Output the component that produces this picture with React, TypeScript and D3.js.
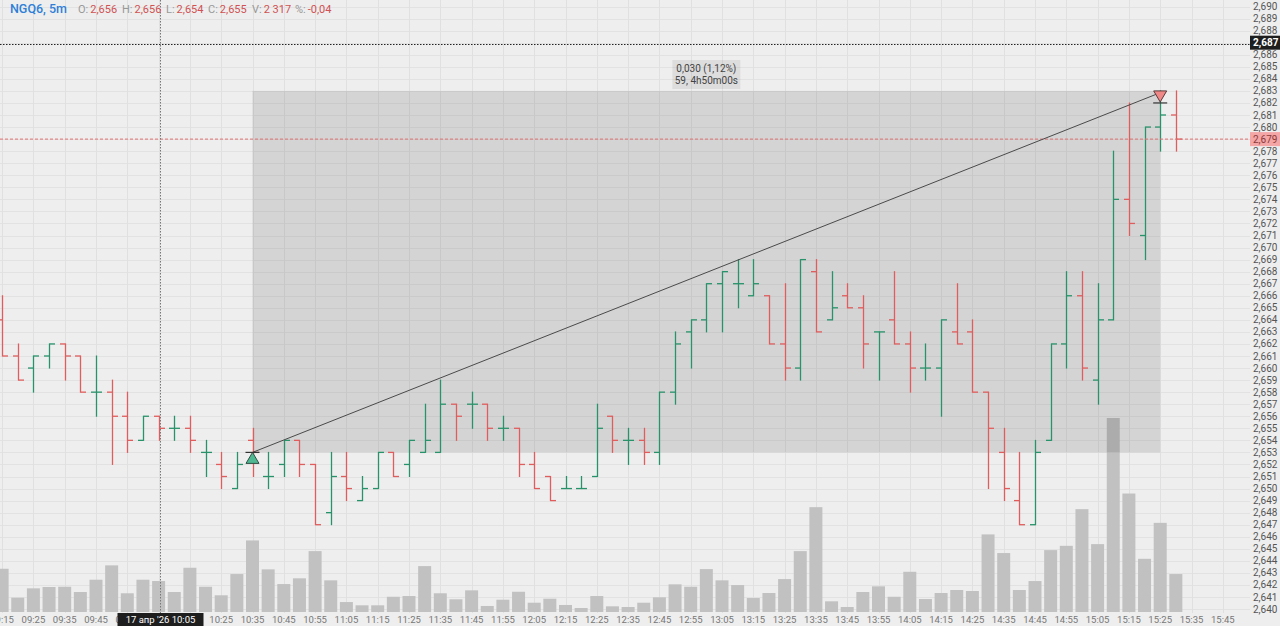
import React from 'react';
import * as d3 from 'd3';

// bar times (5m)
const times = [
  "09:15", "09:20", "09:25", "09:30", "09:35", "09:40", "09:45", "09:50", "09:55", "10:00",
  "10:05", "10:10", "10:15", "10:20", "10:25", "10:30", "10:35", "10:40", "10:45", "10:50",
  "10:55", "11:00", "11:05", "11:10", "11:15", "11:20", "11:25", "11:30", "11:35", "11:40",
  "11:45", "11:50", "11:55", "12:00", "12:05", "12:10", "12:15", "12:20", "12:25", "12:30",
  "12:35", "12:40", "12:45", "12:50", "12:55", "13:00", "13:05", "13:10", "13:15", "13:20",
  "13:25", "13:30", "13:35", "13:40", "13:45", "13:50", "13:55", "14:00", "14:05", "14:10",
  "14:15", "14:20", "14:25", "14:30", "14:35", "14:40", "14:45", "14:50", "14:55", "15:00",
  "15:05", "15:10", "15:15", "15:20", "15:25", "15:30"
];
// empty slots on the right of the last bar
const futureTimes = ["15:35", "15:40", "15:45", "15:50"];

const opens = [
  2.664, 2.661, 2.660, 2.661, 2.662, 2.661, 2.658, 2.658, 2.656, 2.654,
  2.656, 2.655, 2.655, 2.653, 2.652, 2.650, 2.654, 2.651, 2.652, 2.654,
  2.652, 2.648, 2.651, 2.649, 2.650, 2.653, 2.652, 2.653, 2.653, 2.657,
  2.657, 2.657, 2.655, 2.655, 2.652, 2.651, 2.650, 2.650, 2.651, 2.656,
  2.654, 2.654, 2.653, 2.658, 2.663, 2.664, 2.667, 2.667, 2.666, 2.666,
  2.662, 2.660, 2.668, 2.664, 2.666, 2.665, 2.663, 2.664, 2.662, 2.660,
  2.660, 2.663, 2.663, 2.658, 2.653, 2.649, 2.647, 2.654, 2.662, 2.666,
  2.659, 2.664, 2.674, 2.671, 2.680, 2.681
];
const highs = [
  2.666, 2.662, 2.661, 2.662, 2.662, 2.661, 2.661, 2.659, 2.658, 2.656,
  2.656, 2.656, 2.656, 2.654, 2.653, 2.653, 2.655, 2.653, 2.654, 2.654,
  2.652, 2.653, 2.653, 2.651, 2.653, 2.653, 2.654, 2.657, 2.659, 2.657,
  2.658, 2.657, 2.656, 2.655, 2.653, 2.651, 2.651, 2.651, 2.657, 2.656,
  2.655, 2.655, 2.658, 2.663, 2.664, 2.667, 2.668, 2.669, 2.669, 2.666,
  2.667, 2.669, 2.669, 2.668, 2.667, 2.666, 2.663, 2.668, 2.663, 2.662,
  2.664, 2.667, 2.664, 2.658, 2.655, 2.653, 2.654, 2.662, 2.668, 2.668,
  2.667, 2.678, 2.682, 2.680, 2.683, 2.683
];
const lows = [
  2.661, 2.659, 2.658, 2.660, 2.659, 2.658, 2.656, 2.652, 2.653, 2.654,
  2.654, 2.654, 2.653, 2.651, 2.650, 2.650, 2.651, 2.650, 2.651, 2.651,
  2.647, 2.647, 2.649, 2.649, 2.650, 2.651, 2.651, 2.653, 2.653, 2.654,
  2.655, 2.654, 2.654, 2.651, 2.650, 2.649, 2.650, 2.650, 2.651, 2.653,
  2.652, 2.652, 2.652, 2.657, 2.660, 2.663, 2.663, 2.665, 2.666, 2.662,
  2.659, 2.659, 2.663, 2.664, 2.665, 2.660, 2.659, 2.662, 2.658, 2.659,
  2.656, 2.662, 2.658, 2.650, 2.649, 2.647, 2.647, 2.654, 2.660, 2.659,
  2.657, 2.664, 2.671, 2.669, 2.678, 2.678
];
const closes = [
  2.661, 2.659, 2.661, 2.662, 2.661, 2.658, 2.658, 2.656, 2.654, 2.656,
  2.655, 2.655, 2.654, 2.653, 2.651, 2.652, 2.653, 2.651, 2.654, 2.652,
  2.647, 2.651, 2.650, 2.650, 2.653, 2.651, 2.654, 2.654, 2.657, 2.656,
  2.657, 2.655, 2.655, 2.652, 2.650, 2.649, 2.650, 2.650, 2.655, 2.654,
  2.654, 2.653, 2.658, 2.662, 2.664, 2.667, 2.668, 2.667, 2.667, 2.662,
  2.660, 2.669, 2.663, 2.665, 2.665, 2.662, 2.663, 2.662, 2.660, 2.660,
  2.664, 2.662, 2.658, 2.655, 2.650, 2.647, 2.653, 2.662, 2.666, 2.660,
  2.664, 2.674, 2.672, 2.680, 2.681, 2.679
];
const volumes = [
  3235, 1070, 1770, 1870, 1890, 1495, 2415, 3490, 1400, 2415,
  2317, 1495, 3310, 1890, 1250, 2840, 5355, 3190, 2090, 2520,
  4555, 2370, 745, 500, 500, 1140, 1195, 3435, 1400, 950,
  1620, 450, 920, 1515, 695, 995, 525, 300, 1195, 425,
  375, 695, 1100, 2070, 1890, 3210, 2370, 2015, 1045, 1420,
  2465, 4555, 7845, 800, 375, 1495, 1920, 1140, 3010, 970,
  1420, 1645, 1570, 5805, 4410, 1645, 2315, 4630, 4950, 7695,
  5080, 14515, 8865, 3980, 6670, 2840
];

// price axis ticks
const priceTicks = d3.range(2640, 2691).map(v => v / 1000);

// header legend
const symbolLabel = "NGQ6, 5m";
const headerKeys = ["O:", "H:", "L:", "C:", "V:", "%:"];
const headerValues = ["2,656", "2,656", "2,654", "2,655", "2 317", "-0,04"];

// measure tool
const measureFrom = { time: "10:35", price: 2.653 };
const measureTo = { time: "15:25", price: 2.683 };
const measureText = ["0,030 (1,12%)", "59, 4h50m00s"];

// crosshair + last price
const crosshairTime = "10:05";
const crosshairPrice = 2.687;
const crosshairDate = "17 апр '26  10:05";
const lastPrice = 2.679;

const WIDTH = 1280;
const HEIGHT = 626;
const PLOT_RIGHT = 1250;
const HEADER_X = [78, 122, 166, 208, 252, 295];

const App: React.FC = () => {
  const svgRef = React.useRef<SVGSVGElement>(null);

  React.useEffect(() => {
    document.body.style.margin = "0";
    if (!svgRef.current) return;
    const svg = d3.select(svgRef.current);
    svg.selectAll("*").remove();

    const font = "Roboto, 'Noto Sans', sans-serif";
    const green = "#28936b";
    const red = "#e05d5d";
    const fmt = d3.formatLocale({ decimal: ",", thousands: " ", grouping: [3], currency: ["", ""] }).format(".3f");

    const allTimes = [...times, ...futureTimes];
    const x = d3.scalePoint<string>()
      .domain(allTimes)
      .range([2.1, 2.1 + 15.65 * (allTimes.length - 1)]);

    const y = d3.scaleLinear()
      .domain([2.640, 2.690])
      .range([609.05, 6.55]);

    const yVol = d3.scaleLinear()
      .domain([0, d3.max(volumes) || 1])
      .range([612, 418]);

    // фон
    svg.append("rect").attr("width", WIDTH).attr("height", HEIGHT).attr("fill", "#eeeeee");

    svg.append("defs").append("clipPath").attr("id", "plot")
      .append("rect").attr("x", 0).attr("y", 0).attr("width", PLOT_RIGHT).attr("height", 613);

    const plot = svg.append("g").attr("clip-path", "url(#plot)");

    // grid
    plot.append("g").selectAll("line")
      .data(priceTicks)
      .enter().append("line")
      .attr("x1", 0).attr("x2", PLOT_RIGHT)
      .attr("y1", d => Math.round(y(d)) + 0.5).attr("y2", d => Math.round(y(d)) + 0.5)
      .attr("stroke", "#e2e2e2").attr("stroke-width", 1);

    const labelTimes = allTimes.filter((_, i) => i % 2 === 0);
    plot.append("g").selectAll("line")
      .data(labelTimes)
      .enter().append("line")
      .attr("x1", d => Math.round(x(d) || 0) + 0.5).attr("x2", d => Math.round(x(d) || 0) + 0.5)
      .attr("y1", 0).attr("y2", 613)
      .attr("stroke", "#e0e0e0").attr("stroke-width", 1);

    // volume
    plot.append("g").selectAll("rect")
      .data(volumes)
      .enter().append("rect")
      .attr("x", (_, i) => (x(times[i]) || 0) - 6.5)
      .attr("width", 13)
      .attr("y", d => yVol(d))
      .attr("height", d => 612 - yVol(d))
      .attr("fill", "#c1c1c1");

    // measure box
    const mx1 = x(measureFrom.time) || 0;
    const mx2 = x(measureTo.time) || 0;
    const my1 = y(measureFrom.price);
    const my2 = y(measureTo.price);
    plot.append("rect")
      .attr("x", mx1).attr("y", my2)
      .attr("width", mx2 - mx1).attr("height", my1 - my2)
      .attr("fill", "rgba(0,0,0,0.105)");

    // OHLC bars
    const bars = plot.append("g");
    times.forEach((t, i) => {
      const cx = Math.round(x(t) || 0) + 0.5;
      const col = closes[i] >= opens[i] ? green : red;
      const g = bars.append("g").attr("stroke", col).attr("stroke-width", 1.3);
      g.append("line").attr("x1", cx).attr("x2", cx).attr("y1", y(highs[i]) - 0.5).attr("y2", y(lows[i]) + 0.5);
      g.append("line").attr("x1", cx - 5.5).attr("x2", cx).attr("y1", y(opens[i])).attr("y2", y(opens[i]));
      g.append("line").attr("x1", cx).attr("x2", cx + 5.5).attr("y1", y(closes[i])).attr("y2", y(closes[i]));
    });

    // last price line
    plot.append("line")
      .attr("x1", 0).attr("x2", PLOT_RIGHT)
      .attr("y1", y(lastPrice)).attr("y2", y(lastPrice))
      .attr("stroke", "#e07070").attr("stroke-width", 1).attr("stroke-dasharray", "3,2");

    // measure line + markers
    plot.append("line")
      .attr("x1", mx1).attr("y1", my1)
      .attr("x2", mx2 - 3).attr("y2", my2 + 3)
      .attr("stroke", "#4a4a4a").attr("stroke-width", 1);

    plot.append("path")
      .attr("d", `M${mx1},${my1} L${mx1 + 6.5},${my1 + 11} L${mx1 - 6.5},${my1 + 11} Z`)
      .attr("fill", "#4fb893").attr("stroke", "#2f4f44").attr("stroke-width", 1);
    plot.append("line")
      .attr("x1", mx1 - 7).attr("x2", mx1 + 7).attr("y1", my1).attr("y2", my1)
      .attr("stroke", "#333").attr("stroke-width", 1.2);

    const apex = y(measureTo.price - 0.001);
    plot.append("path")
      .attr("d", `M${mx2 - 6.5},${my2} L${mx2 + 6.5},${my2} L${mx2},${apex - 1} Z`)
      .attr("fill", "#f08888").attr("stroke", "#5a3a3a").attr("stroke-width", 1);
    plot.append("line")
      .attr("x1", mx2 - 7).attr("x2", mx2 + 7).attr("y1", apex).attr("y2", apex)
      .attr("stroke", "#333").attr("stroke-width", 1.2);

    // measure label
    const lx = (mx1 + mx2) / 2;
    plot.append("rect")
      .attr("x", lx - 34).attr("y", 60).attr("width", 68).attr("height", 29)
      .attr("fill", "rgba(0,0,0,0.07)");
    measureText.forEach((s, i) => {
      plot.append("text")
        .attr("x", lx).attr("y", 72 + i * 12)
        .attr("text-anchor", "middle")
        .attr("font-family", font).attr("font-size", "10px").attr("fill", "#444")
        .text(s);
    });

    // crosshair
    const chx = Math.round(x(crosshairTime) || 0) + 1.5;
    plot.append("line")
      .attr("x1", chx).attr("x2", chx).attr("y1", 0).attr("y2", 613)
      .attr("stroke", "#777").attr("stroke-width", 1).attr("stroke-dasharray", "1.5,1.5");
    svg.append("line")
      .attr("x1", 0).attr("x2", PLOT_RIGHT)
      .attr("y1", Math.round(y(crosshairPrice)) + 1.5).attr("y2", Math.round(y(crosshairPrice)) + 1.5)
      .attr("stroke", "#222").attr("stroke-width", 1.2).attr("stroke-dasharray", "1.5,1.5");

    // price axis
    svg.append("g").selectAll("text")
      .data(priceTicks)
      .enter().append("text")
      .attr("x", 1253).attr("y", d => y(d) + 3.5)
      .attr("font-family", font).attr("font-size", "10px").attr("fill", "#555")
      .text(d => fmt(d));

    const tag = (price: number, bg: string, fg: string, bold: boolean) => {
      const ty = y(price);
      svg.append("rect").attr("x", PLOT_RIGHT).attr("y", ty - 7).attr("width", 30).attr("height", 14).attr("fill", bg);
      svg.append("text")
        .attr("x", 1253).attr("y", ty + 3.5)
        .attr("font-family", font).attr("font-size", "10px")
        .attr("font-weight", bold ? "bold" : "normal").attr("fill", fg)
        .text(fmt(price));
    };
    tag(lastPrice, "#f4a5a5", "#8a3a3a", false);
    tag(crosshairPrice, "#1e1e1e", "#ffffff", true);

    // time axis (the crosshair tag covers its own slot)
    svg.append("g").selectAll("text")
      .data(labelTimes.filter(d => d !== crosshairTime))
      .enter().append("text")
      .attr("x", d => x(d) || 0).attr("y", 623)
      .attr("text-anchor", "middle")
      .attr("font-family", font).attr("font-size", "9.5px").attr("fill", "#777")
      .text(d => d);

    svg.append("rect")
      .attr("x", chx - 43).attr("y", 613).attr("width", 86).attr("height", 13)
      .attr("fill", "#1e1e1e");
    svg.append("text")
      .attr("x", chx).attr("y", 623)
      .attr("text-anchor", "middle")
      .attr("font-family", font).attr("font-size", "9.5px").attr("fill", "#fff")
      .text(crosshairDate);

    // header
    svg.append("text")
      .attr("x", 10).attr("y", 13)
      .attr("font-family", font).attr("font-size", "12.5px").attr("font-weight", 500)
      .attr("fill", "#2f7fd8")
      .text(symbolLabel);
    headerKeys.forEach((k, i) => {
      const t = svg.append("text")
        .attr("x", HEADER_X[i]).attr("y", 13)
        .attr("font-family", font).attr("font-size", "11px");
      t.append("tspan").attr("fill", "#999").text(k);
      t.append("tspan").attr("dx", 2).attr("fill", "#d05252").text(headerValues[i]);
    });
  }, []);

  return <svg ref={svgRef} width={WIDTH} height={HEIGHT} style={{ display: "block" }} />;
};

export default App;
